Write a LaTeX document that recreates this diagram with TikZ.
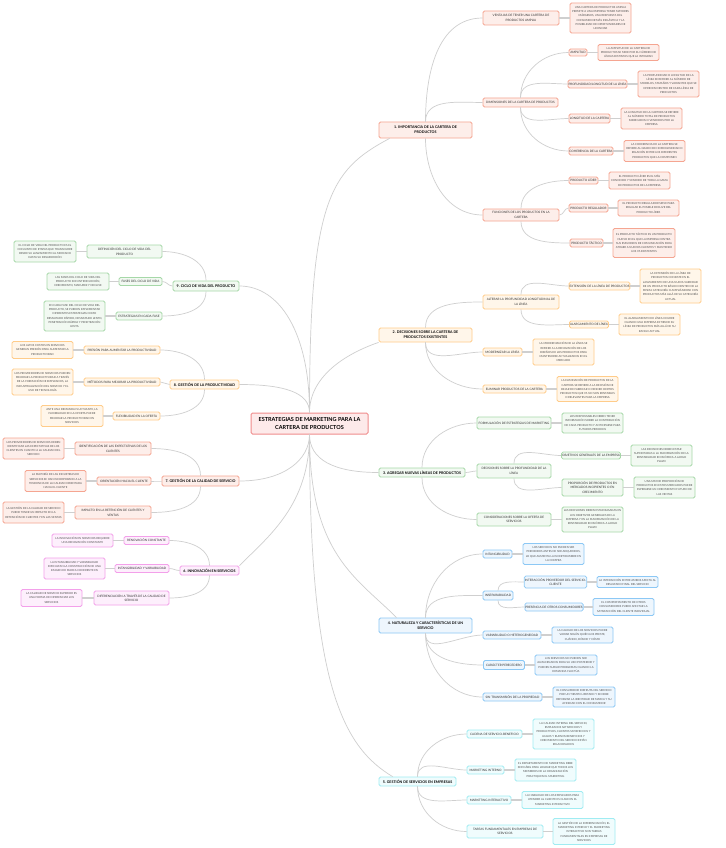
\documentclass[tikz,border=0pt]{standalone}
\usepackage{fontspec}
\setmainfont{Lato}
\usetikzlibrary{calc}
\definecolor{salB}{HTML}{F5A591}\definecolor{salF}{HTML}{FDEEEA}
\definecolor{rootB}{HTML}{F08C8C}\definecolor{rootF}{HTML}{FDEAEA}
\definecolor{oraB}{HTML}{FFCC8A}\definecolor{oraF}{HTML}{FFF6EA}
\definecolor{grnB}{HTML}{A6D8A8}\definecolor{grnF}{HTML}{F2F9F2}
\definecolor{bluB}{HTML}{8CC8F5}\definecolor{bluF}{HTML}{EEF6FD}
\definecolor{cyaB}{HTML}{A0ECF2}\definecolor{cyaF}{HTML}{F0FCFD}
\definecolor{pnkB}{HTML}{F3A0EA}\definecolor{pnkF}{HTML}{FDEFFC}
\definecolor{lineC}{HTML}{CFCFCF}
\definecolor{txtL}{HTML}{505050}
\definecolor{txtS}{HTML}{303030}
\newcommand\fLeaf{\fontsize{2.75}{4.25}\selectfont}
\newcommand\fSub{\fontsize{3.05}{4.5}\selectfont}
\newcommand\fHead{\fontsize{3.6}{5}\selectfont\bfseries}
\newcommand\fRoot{\fontsize{5.5}{7.6}\selectfont\bfseries}
\tikzset{
  base/.style={rectangle, rounded corners=1.5pt, line width=0.8pt, align=center, inner sep=0.5pt, anchor=center},
  leaf/.style={base, font=\fLeaf, text=txtL},
  sub/.style={base, font=\fSub, text=txtS},
  head/.style={base, font=\fHead, text=black},
  wh/.style 2 args={minimum width=#1pt, minimum height=#2pt},
  cSal/.style={draw=salB, fill=salF},
  cRoot/.style={draw=rootB, fill=rootF},
  cOra/.style={draw=oraB, fill=oraF},
  cGrn/.style={draw=grnB, fill=grnF},
  cBlu/.style={draw=bluB, fill=bluF},
  cCya/.style={draw=cyaB, fill=cyaF},
  cPnk/.style={draw=pnkB, fill=pnkF},
  conn/.style={draw=lineC, line width=0.7pt},
  lconn/.style={draw=lineC, line width=1.2pt},
}
\begin{document}
\begin{tikzpicture}[x=1pt,y=1pt]
\fill[white] (0,0) rectangle (725,-848);
\useasboundingbox (0,0) rectangle (725,-848);

% ---------- root ----------
\node[base, cRoot, font=\fRoot, wh={117}{21}, line width=1pt] (root) at (309.5,-423.5) {ESTRATEGIAS DE MARKETING PARA LA\\CARTERA DE PRODUCTOS};

% ---------- main branches ----------
\node[head, cSal, wh={93}{16}] (b1) at (425.5,-130) {1. IMPORTANCIA DE LA CARTERA DE\\PRODUCTOS};
\node[head, cOra, wh={93}{14}] (b2) at (425.5,-335) {2. DECISIONES SOBRE LA CARTERA DE\\PRODUCTOS EXISTENTES};
\node[head, cGrn, wh={86}{9}] (b3) at (422,-472.5) {3. AGREGAR NUEVAS LÍNEAS DE PRODUCTOS};
\node[head, cBlu, wh={93}{15}] (b4) at (425.5,-625.5) {4. NATURALEZA Y CARACTERÍSTICAS DE UN\\SERVICIO};
\node[head, cCya, wh={77}{9}] (b5) at (417.5,-781.5) {5. GESTIÓN DE SERVICIOS EN EMPRESAS};
\node[head, cPnk, wh={59}{9}] (b6) at (209.5,-570.5) {6. INNOVACIÓN EN SERVICIOS};
\node[head, cSal, wh={77}{10}] (b7) at (200.5,-481) {7. GESTIÓN DE LA CALIDAD DE SERVICIO};
\node[head, cOra, wh={69}{9}] (b8) at (204.5,-384.5) {8. GESTIÓN DE LA PRODUCTIVIDAD};
\node[head, cGrn, wh={66}{10}] (b9) at (206,-286) {9. CICLO DE VIDA DEL PRODUCTO};

% ---------- branch 1 ----------
\node[sub, cSal, wh={76}{14}] (s1a) at (521,-18) {VENTAJAS DE TENER UNA CARTERA DE\\PRODUCTOS AMPLIA};
\node[leaf, cSal, wh={61}{30}] (l1a) at (600.5,-18) {UNA CARTERA DE PRODUCTOS AMPLIA\\PERMITE A UNA EMPRESA TENER MAYORES\\MÁRGENES, UNA RESPUESTA DEL\\CONSUMIDOR MÁS INELÁSTICA Y LA\\POSIBILIDAD DE OPORTUNIDADES DE\\LICENCIAR};
\node[sub, cSal, wh={75}{9}] (s1b) at (520.5,-102.5) {DIMENSIONES DE LA CARTERA DE PRODUCTOS};
\node[sub, cSal, wh={18}{7}] (g1) at (578,-52.5) {AMPLITUD};
\node[leaf, cSal, wh={61}{16}] (lg1) at (628.5,-52.5) {LA AMPLITUD DE LA CARTERA DE\\PRODUCTOS SE MIDE POR EL NÚMERO DE\\LÍNEAS DISTINTAS QUE LA INTEGRAN};
\node[sub, cSal, wh={57}{8}] (g2) at (597.5,-84) {PROFUNDIDAD/LONGITUD DE LA LÍNEA};
\node[leaf, cSal, wh={61}{26}] (lg2) at (668.5,-84) {LA PROFUNDIDAD O LONGITUD DE LA\\LÍNEA SE REFIERE AL NÚMERO DE\\MODELOS, TAMAÑOS Y VARIANTES QUE SE\\OFRECEN DENTRO DE CADA LÍNEA DE\\PRODUCTOS};
\node[sub, cSal, wh={41}{9}] (g3) at (589.5,-118.5) {LONGITUD DE LA CARTERA};
\node[leaf, cSal, wh={61}{21}] (lg3) at (651.5,-118.5) {LA LONGITUD DE LA CARTERA SE REFIERE\\AL NÚMERO TOTAL DE PRODUCTOS\\FABRICADOS O VENDIDOS POR LA\\EMPRESA};
\node[sub, cSal, wh={44}{8}] (g4) at (591,-151) {COHERENCIA DE LA CARTERA};
\node[leaf, cSal, wh={61}{21}] (lg4) at (654.5,-151) {LA COHERENCIA DE LA CARTERA SE\\REFIERE AL GRADO DE HOMOGENEIDAD O\\RELACIÓN ENTRE LOS DIFERENTES\\PRODUCTOS QUE LA COMPONEN};
\node[sub, cSal, wh={76}{12}] (s1c) at (521,-215) {FUNCIONES DE LOS PRODUCTOS EN LA\\CARTERA};
\node[sub, cSal, wh={29}{7}] (g5) at (583.5,-180.5) {PRODUCTO LÍDER};
\node[leaf, cSal, wh={61}{17}] (lg5) at (639.5,-180.5) {EL PRODUCTO LÍDER ES EL MÁS\\CONOCIDO Y VENDIDO DE TODA LA GAMA\\DE PRODUCTOS DE LA EMPRESA};
\node[sub, cSal, wh={39}{8}] (g6) at (588.5,-208) {PRODUCTO REGULADOR};
\node[leaf, cSal, wh={61}{16}] (lg6) at (648.5,-208) {EL PRODUCTO REGULADOR SIRVE PARA\\REGULAR EL POSIBLE DECLIVE DEL\\PRODUCTO LÍDER};
\node[sub, cSal, wh={33}{8}] (g7) at (586.5,-243) {PRODUCTO TÁCTICO};
\node[leaf, cSal, wh={62}{29}] (lg7) at (644,-243) {EL PRODUCTO TÁCTICO ES UN PRODUCTO\\NUEVO EN EL QUE LA EMPRESA CENTRA\\SUS ESFUERZOS DE COMUNICACIÓN PARA\\ATRAER A NUEVOS CLIENTES Y MANTENER\\LOS YA EXISTENTES};

% ---------- branch 2 ----------
\node[sub, cOra, wh={76}{14}] (s2a) at (521,-302) {ALTERAR LA PROFUNDIDAD LONGITUDINAL DE\\LA LÍNEA};
\node[sub, cOra, wh={59}{8}] (g8) at (599.5,-286) {EXTENSIÓN DE LA LÍNEA DE PRODUCTOS};
\node[leaf, cOra, wh={61}{34}] (lg8) at (670.5,-286) {LA EXTENSIÓN DE LA LÍNEA DE\\PRODUCTOS CONSISTE EN EL\\LANZAMIENTO DE UNA NUEVA VARIEDAD\\DE UN PRODUCTO BÁSICO DENTRO DE LA\\MISMA CATEGORÍA O AMPLIÁNDOSE CON\\PRODUCTOS MÁS ALLÁ DE SU CATEGORÍA\\ACTUAL};
\node[sub, cOra, wh={38}{7}] (g9) at (589,-324.5) {ALARGAMIENTO DE LÍNEA};
\node[leaf, cOra, wh={61}{21}] (lg9) at (649.5,-324.5) {EL ALARGAMIENTO DE LÍNEA OCURRE\\CUANDO UNA EMPRESA EXTIENDE SU\\LÍNEA DE PRODUCTOS MÁS ALLÁ DE SU\\RANGO ACTUAL};
\node[sub, cOra, wh={39}{8}] (s2b) at (502.5,-352) {MODERNIZAR LA LÍNEA};
\node[leaf, cOra, wh={61}{26}] (l2b) at (563.5,-352) {LA MODERNIZACIÓN DE LA LÍNEA SE\\REFIERE A LA RENOVACIÓN DE LOS\\DISEÑOS DE LOS PRODUCTOS PARA\\MANTENERSE ACTUALIZADOS EN EL\\MERCADO};
\node[sub, cOra, wh={63}{8}] (s2c) at (514.5,-389) {ELIMINAR PRODUCTOS DE LA CARTERA};
\node[leaf, cOra, wh={61}{25}] (l2c) at (587.5,-389) {LA ELIMINACIÓN DE PRODUCTOS DE LA\\CARTERA SE REFIERE A LA DECISIÓN DE\\DEJAR DE FABRICAR O VENDER CIERTOS\\PRODUCTOS QUE YA NO SON RENTABLES\\O RELEVANTES PARA LA EMPRESA};

% ---------- branch 3 ----------
\node[sub, cGrn, wh={74}{12}] (s3a) at (514,-423) {FORMULACIÓN DE ESTRATEGIAS DE MARKETING};
\node[leaf, cGrn, wh={61}{20}] (l3a) at (592.5,-423) {LOS RESPONSABLES DEBEN TENER\\INFORMACIÓN SOBRE LA CONTRIBUCIÓN\\DE CADA PRODUCTO Y ANTICIPARSE PARA\\FUTUROS PERIODOS};
\node[sub, cGrn, wh={74}{14}] (s3b) at (514,-471) {DECISIONES SOBRE LA PROFUNDIDAD DE LA\\LÍNEA};
\node[sub, cGrn, wh={58}{7}] (g10) at (591,-455.5) {OBJETIVOS GENERALES DE LA EMPRESA};
\node[leaf, cGrn, wh={61}{21}] (lg10) at (661.5,-455.5) {LAS DECISIONES DEBEN ESTAR\\SUPEDITADAS A LA MAXIMIZACIÓN DE LA\\RENTABILIDAD ECONÓMICA A LARGO\\PLAZO};
\node[sub, cGrn, wh={61}{17}] (g11) at (592.5,-487.5) {PROPORCIÓN DE PRODUCTOS EN\\MERCADOS INCIPIENTES O EN\\CRECIMIENTO};
\node[leaf, cGrn, wh={61}{21}] (lg11) at (664.5,-487.5) {UNA MAYOR PROPORCIÓN DE\\PRODUCTOS EN ESTOS MERCADOS PUEDE\\ESPERARSE UN CRECIMIENTO FUTURO DE\\LAS VENTAS};
\node[sub, cGrn, wh={74}{13}] (s3c) at (514,-519.5) {CONSIDERACIONES SOBRE LA OFERTA DE\\SERVICIOS};
\node[leaf, cGrn, wh={61}{25}] (l3c) at (592.5,-519.5) {LAS DECISIONES DEBEN ESTAR BASADAS EN\\LOS OBJETIVOS GENERALES DE LA\\EMPRESA Y EN LA MAXIMIZACIÓN DE LA\\RENTABILIDAD ECONÓMICA A LARGO\\PLAZO};

% ---------- branch 4 ----------
\node[sub, cBlu, wh={29}{8}] (s4a) at (497.5,-554) {INTANGIBILIDAD};
\node[leaf, cBlu, wh={61}{21}] (l4a) at (553.5,-554) {LOS SERVICIOS NO PUEDEN SER\\PERCIBIDOS ANTES DE SER ADQUIRIDOS,\\LO QUE AUMENTA LA INCERTIDUMBRE EN\\LA COMPRA};
\node[sub, cBlu, wh={30}{9}] (s4b) at (498,-595.5) {INSEPARABILIDAD};
\node[sub, cBlu, wh={61}{12}] (g12) at (555.5,-582) {INTERACCIÓN PROVEEDOR DEL SERVICIO-\\CLIENTE};
\node[leaf, cBlu, wh={61}{11}] (lg12) at (627.5,-582) {LA INTERACCIÓN ENTRE AMBOS AFECTA AL\\RESULTADO FINAL DEL SERVICIO};
\node[sub, cBlu, wh={58}{8}] (g13) at (554,-607) {PRESENCIA DE OTROS CONSUMIDORES};
\node[leaf, cBlu, wh={61}{17}] (lg13) at (623.5,-607) {EL COMPORTAMIENTO DE OTROS\\CONSUMIDORES PUEDE AFECTAR LA\\SATISFACCIÓN DEL CLIENTE INDIVIDUAL};
\node[sub, cBlu, wh={58}{8}] (s4c) at (512,-635) {VARIABILIDAD O HETEROGENEIDAD};
\node[leaf, cBlu, wh={61}{16}] (l4c) at (582.5,-635) {LA CALIDAD DE LOS SERVICIOS PUEDE\\VARIAR SEGÚN QUIÉN LOS PRESTE,\\CUÁNDO, DÓNDE Y CÓMO};
\node[sub, cBlu, wh={41}{9}] (s4d) at (504,-665) {CARÁCTER PERECEDERO};
\node[leaf, cBlu, wh={62}{20}] (l4d) at (566,-665) {LOS SERVICIOS NO PUEDEN SER\\ALMACENADOS PARA SU USO POSTERIOR Y\\PUEDEN SURGIR PROBLEMAS CUANDO LA\\DEMANDA FLUCTÚA};
\node[sub, cBlu, wh={59}{8}] (s4e) at (512.5,-697) {SIN TRANSMISIÓN DE LA PROPIEDAD};
\node[leaf, cBlu, wh={62}{20}] (l4e) at (584,-697) {EL CONSUMIDOR DISFRUTA DEL SERVICIO\\POR UN TIEMPO LIMITADO Y SE DEBE\\REFORZAR LA IDENTIDAD DE MARCA Y SU\\AFINIDAD CON EL CONSUMIDOR};

% ---------- branch 5 ----------
\node[sub, cCya, wh={55}{8}] (s5a) at (494.5,-734) {CADENA DE SERVICIO-BENEFICIO};
\node[leaf, cCya, wh={61}{30}] (l5a) at (563.5,-734) {LA CALIDAD INTERNA DEL SERVICIO,\\EMPLEADOS SATISFECHOS Y\\PRODUCTIVOS, CLIENTES SATISFECHOS Y\\LEALES Y BUENOS BENEFICIOS Y\\CRECIMIENTO DEL SERVICIO ESTÁN\\RELACIONADOS};
\node[sub, cCya, wh={37}{8}] (s5b) at (485.5,-770) {MARKETING INTERNO};
\node[leaf, cCya, wh={61}{22}] (l5b) at (545.5,-770) {EL DEPARTAMENTO DE MARKETING DEBE\\SER HÁBIL PARA LOGRAR QUE TODOS LOS\\MIEMBROS DE LA ORGANIZACIÓN\\PRACTIQUEN EL MARKETING};
\node[sub, cCya, wh={44}{8}] (s5c) at (489,-800) {MARKETING INTERACTIVO};
\node[leaf, cCya, wh={61}{17}] (l5c) at (552.5,-800) {LA HABILIDAD DE LOS EMPLEADOS PARA\\ATENDER AL CLIENTE ES CLAVE EN EL\\MARKETING INTERACTIVO};
\node[sub, cCya, wh={76}{13}] (s5d) at (505,-831.5) {TAREAS FUNDAMENTALES EN EMPRESAS DE\\SERVICIOS};
\node[leaf, cCya, wh={62}{26}] (l5d) at (584,-831.5) {LA GESTIÓN DE LA DIFERENCIACIÓN, EL\\MARKETING INTERNO Y EL MARKETING\\INTERACTIVO SON TAREAS\\FUNDAMENTALES EN EMPRESAS DE\\SERVICIOS};

% ---------- branch 9 ----------
\node[sub, cGrn, wh={75}{13}] (s9a) at (124.5,-251.5) {DEFINICIÓN DEL CICLO DE VIDA DEL\\PRODUCTO};
\node[leaf, cGrn, wh={62}{21}] (l9a) at (45,-251.5) {EL CICLO DE VIDA DEL PRODUCTO ES EL\\CONJUNTO DE ETAPAS QUE TRANSCURRE\\DESDE SU LANZAMIENTO AL MERCADO\\HASTA SU DESAPARICIÓN};
\node[sub, cGrn, wh={43}{8}] (s9b) at (140.5,-281.5) {FASES DEL CICLO DE VIDA};
\node[leaf, cGrn, wh={62}{17}] (l9b) at (78,-281.5) {LAS FASES DEL CICLO DE VIDA DEL\\PRODUCTO SON INTRODUCCIÓN,\\CRECIMIENTO, MADUREZ Y DECLIVE};
\node[sub, cGrn, wh={46}{8}] (s9c) at (139,-316) {ESTRATEGIAS EN CADA FASE};
\node[leaf, cGrn, wh={61}{30}] (l9c) at (74.5,-316) {EN CADA FASE DEL CICLO DE VIDA DEL\\PRODUCTO, SE PUEDEN IMPLEMENTAR\\DIFERENTES ESTRATEGIAS COMO\\DESNATADO RÁPIDO, DESNATADO LENTO,\\PENETRACIÓN RÁPIDA Y PENETRACIÓN\\LENTA};

% ---------- branch 8 ----------
\node[sub, cOra, wh={76}{8}] (s8a) at (122,-350) {PRESIÓN PARA AUMENTAR LA PRODUCTIVIDAD};
\node[leaf, cOra, wh={61}{17}] (l8a) at (42.5,-350) {LOS ALTOS COSTOS EN SERVICIOS\\GENERAN PRESIÓN PARA AUMENTAR LA\\PRODUCTIVIDAD};
\node[sub, cOra, wh={76}{8}] (s8b) at (122,-382) {MÉTODOS PARA MEJORAR LA PRODUCTIVIDAD};
\node[leaf, cOra, wh={61}{26}] (l8b) at (42.5,-382) {LOS PROVEEDORES DE SERVICIOS PUEDEN\\MEJORAR LA PRODUCTIVIDAD A TRAVÉS\\DE LA FORMACIÓN DE EMPLEADOS, LA\\INDUSTRIALIZACIÓN DEL SERVICIO Y EL\\USO DE TECNOLOGÍA};
\node[sub, cOra, wh={47}{8}] (s8c) at (136.5,-416) {FLEXIBILIDAD EN LA OFERTA};
\node[leaf, cOra, wh={62}{21}] (l8c) at (72,-416) {ANTE UNA DEMANDA FLUCTUANTE, LA\\FLEXIBILIDAD EN LA OFERTA PUEDE\\MEJORAR LA PRODUCTIVIDAD EN\\SERVICIOS};

% ---------- branch 7 ----------
\node[sub, cSal, wh={76}{13}] (s7a) at (113,-448.5) {IDENTIFICACIÓN DE LAS EXPECTATIVAS DE LOS\\CLIENTES};
\node[leaf, cSal, wh={61}{21}] (l7a) at (33.5,-448.5) {LOS PROVEEDORES DE SERVICIOS DEBEN\\IDENTIFICAR LAS EXPECTATIVAS DE LOS\\CLIENTES EN CUANTO A LA CALIDAD DEL\\SERVICIO};
\node[sub, cSal, wh={54}{8}] (s7b) at (124,-481) {ORIENTACIÓN HACIA EL CLIENTE};
\node[leaf, cSal, wh={61}{21}] (l7b) at (55.5,-481) {LA MAYORÍA DE LAS INDUSTRIAS DE\\SERVICIOS SE HAN INCORPORADO A LA\\TENDENCIA DE LA CALIDAD ORIENTADA\\HACIA EL CLIENTE};
\node[sub, cSal, wh={76}{13}] (s7c) at (113,-512.5) {IMPACTO EN LA RETENCIÓN DE CLIENTES Y\\VENTAS};
\node[leaf, cSal, wh={61}{21}] (l7c) at (33.5,-512.5) {LA GESTIÓN DE LA CALIDAD DE SERVICIO\\PUEDE TENER UN IMPACTO EN LA\\RETENCIÓN DE CLIENTES Y EN LAS VENTAS};

% ---------- branch 6 ----------
\node[sub, cPnk, wh={45}{8}] (s6a) at (146.5,-540.5) {RENOVACIÓN CONSTANTE};
\node[leaf, cPnk, wh={61}{13}] (l6a) at (82.5,-540.5) {LA INNOVACIÓN EN SERVICIOS REQUIERE\\UNA RENOVACIÓN CONSTANTE};
\node[sub, cPnk, wh={54}{8}] (s6b) at (142,-568.5) {INTANGIBILIDAD Y VARIABILIDAD};
\node[leaf, cPnk, wh={61}{21}] (l6b) at (74.5,-568.5) {LA INTANGIBILIDAD Y VARIABILIDAD\\DIFICULTAN LA CONSTRUCCIÓN DE UNA\\IMAGEN DE MARCA COHERENTE EN\\SERVICIOS};
\node[sub, cPnk, wh={75}{14}] (s6c) at (131.5,-598) {DIFERENCIACIÓN A TRAVÉS DE LA CALIDAD DE\\SERVICIO};
\node[leaf, cPnk, wh={61}{17}] (l6c) at (51.5,-598) {LA CALIDAD DE SERVICIO SUPERIOR ES\\UNA FORMA DE DIFERENCIAR LOS\\SERVICIOS};

% ---------- connectors: root to branches ----------
\begin{scope}[on background layer/.style={}]
\draw[conn] (root.north) .. controls +(0,213) and +(-60,-32) .. ($(b1.south west)+(11,0)$);
\draw[conn] (root.north) .. controls +(0,35) and +(-35,-12) .. (b2.south west);
\draw[conn] (root.north) .. controls +(0,80) and +(40,0) .. (b9.east);
\draw[conn] (root.north) .. controls +(0,20) and +(45,0) .. (b8.east);
\draw[conn] (root.south) .. controls +(0,-25) and +(45,0) .. (b7.east);
\draw[conn] (root.south) .. controls +(0,-70) and +(30,30) .. (b6.north east);
\draw[conn] (root.south) .. controls +(0,-25) and +(-45,0) .. (b3.west);
\draw[conn] (root.south) .. controls +(0,-120) and +(-40,40) .. ($(b4.north west)+(18,0)$);
\draw[conn] (root.south) .. controls +(0,-250) and +(-50,30) .. ($(b5.north west)+(14,0)$);
\end{scope}

% ---------- connectors: branch to sub ----------
\draw[conn] (b1.north) to[out=90,in=180] (s1a.west);
\draw[conn] (b1.north) to[out=90,in=180] (s1b.west);
\draw[conn] (b1.south) to[out=-90,in=180] (s1c.west);
\draw[conn] (s1b.north) to[out=90,in=180] (g1.west);
\draw[conn] (s1b.north) to[out=90,in=180] (g2.west);
\draw[conn] (s1b.south) to[out=-90,in=180] (g3.west);
\draw[conn] (s1b.south) to[out=-90,in=180] (g4.west);
\draw[conn] (s1c.north) to[out=90,in=180] (g5.west);
\draw[conn] (s1c.east) to[out=0,in=180] (g6.west);
\draw[conn] (s1c.south) to[out=-90,in=180] (g7.west);

\draw[conn] (b2.north) to[out=90,in=180] (s2a.west);
\draw[conn] (b2.south) to[out=-90,in=180] (s2b.west);
\draw[conn] (b2.south) to[out=-90,in=180] (s2c.west);
\draw[conn] (s2a.north) to[out=90,in=180] (g8.west);
\draw[conn] (s2a.south) to[out=-90,in=180] (g9.west);

\draw[conn] (b3.north) to[out=90,in=180] (s3a.west);
\draw[conn] (b3.east) to[out=0,in=180] (s3b.west);
\draw[conn] (b3.south) to[out=-90,in=180] (s3c.west);
\draw[conn] (s3b.north) to[out=90,in=180] (g10.west);
\draw[conn] (s3b.south) to[out=-90,in=180] (g11.west);

\draw[conn] (b4.north) to[out=90,in=180] (s4a.west);
\draw[conn] (b4.north) to[out=90,in=180] (s4b.west);
\draw[conn] (b4.south) to[out=-90,in=180] (s4c.west);
\draw[conn] (b4.south) to[out=-90,in=180] (s4d.west);
\draw[conn] (b4.south) to[out=-90,in=180] (s4e.west);
\draw[conn] (s4b.north) to[out=90,in=180] (g12.west);
\draw[conn] (s4b.south) to[out=-90,in=180] (g13.west);

\draw[conn] (b5.north) to[out=90,in=180] (s5a.west);
\draw[conn] (b5.north) to[out=90,in=180] (s5b.west);
\draw[conn] (b5.south) to[out=-90,in=180] (s5c.west);
\draw[conn] (b5.south) to[out=-90,in=180] (s5d.west);

\draw[conn] (b9.north) to[out=90,in=0] (s9a.east);
\draw[conn] (b9.west) to[out=180,in=0] (s9b.east);
\draw[conn] (b9.south) to[out=-90,in=0] (s9c.east);
\draw[conn] (b8.north) to[out=90,in=0] (s8a.east);
\draw[conn] (b8.west) to[out=180,in=0] (s8b.east);
\draw[conn] (b8.south) to[out=-90,in=0] (s8c.east);
\draw[conn] (b7.north) to[out=90,in=0] (s7a.east);
\draw[conn] (b7.west) to[out=180,in=0] (s7b.east);
\draw[conn] (b7.south) to[out=-90,in=0] (s7c.east);
\draw[conn] (b6.north) to[out=90,in=0] (s6a.east);
\draw[conn] (b6.west) to[out=180,in=0] (s6b.east);
\draw[conn] (b6.south) to[out=-90,in=0] (s6c.east);

% ---------- connectors: to leaves ----------
\foreach \a/\b in {s1a/l1a,g1/lg1,g2/lg2,g3/lg3,g4/lg4,g5/lg5,g6/lg6,g7/lg7,
  g8/lg8,g9/lg9,s2b/l2b,s2c/l2c,s3a/l3a,g10/lg10,g11/lg11,s3c/l3c,
  s4a/l4a,g12/lg12,g13/lg13,s4c/l4c,s4d/l4d,s4e/l4e,s5a/l5a,s5b/l5b,s5c/l5c,s5d/l5d}
  \draw[lconn] (\a.east) -- (\b.west);
\foreach \a/\b in {s9a/l9a,s9b/l9b,s9c/l9c,s8a/l8a,s8b/l8b,s8c/l8c,
  s7a/l7a,s7b/l7b,s7c/l7c,s6a/l6a,s6b/l6b,s6c/l6c}
  \draw[lconn] (\a.west) -- (\b.east);
\end{tikzpicture}
\end{document}
